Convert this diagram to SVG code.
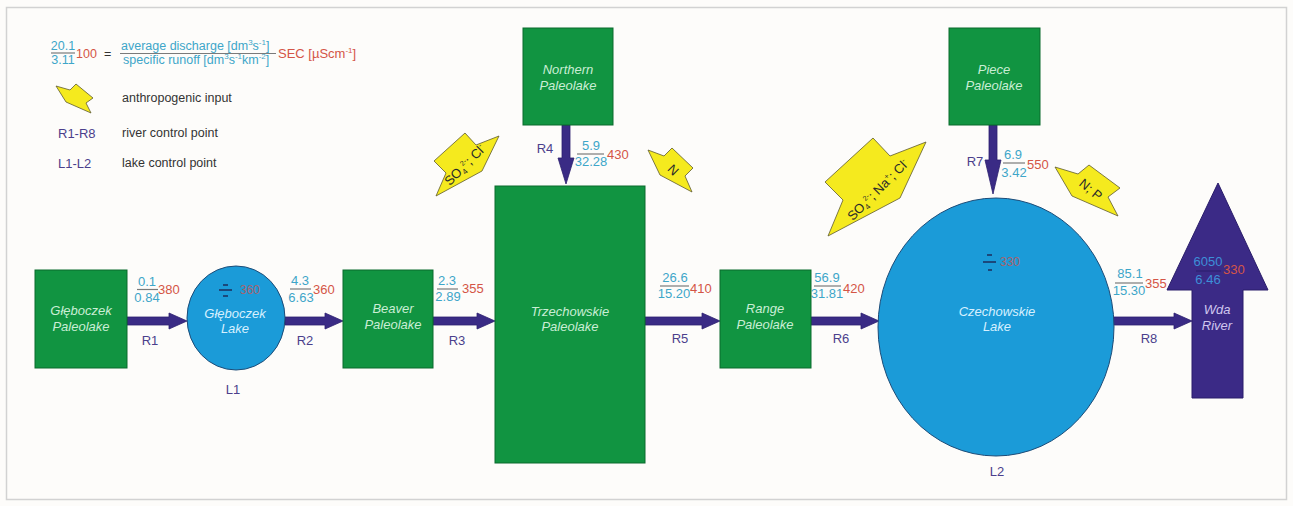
<svg xmlns="http://www.w3.org/2000/svg" width="1293" height="506" viewBox="0 0 1293 506">
<style>
text{font-family:"Liberation Sans",Arial,sans-serif}
.box{fill:#119441;stroke:#0b6a2c;stroke-width:1}
.lake{fill:#1b9bd8;stroke:#1d4c78;stroke-width:1}
.bt{fill:#c9eed5;font-size:13px;font-style:italic;text-anchor:middle}
.lt{fill:#d6f0ff;font-size:13px;font-style:italic;text-anchor:middle}
.flow{fill:#3a2b85;stroke:#2c1f6e;stroke-width:0.8}
.num{fill:#3ea6c9;font-size:13px;text-anchor:middle}
.sec{fill:#d45546;font-size:13px}
.fl{stroke:#7a7a7a;stroke-width:1.2}
.rl{fill:#4b3f8c;font-size:13px;text-anchor:middle}
.yel{fill:#f5ea1e;stroke:#5e5a30;stroke-width:0.8}
.yt{fill:#2a2a2a;font-size:13px;text-anchor:middle}
.leg{fill:#333;font-size:12.5px}
.dash{stroke:#1d2c5c;stroke-width:1.5}
.mute{fill:#a8626c;font-size:12px}
</style>
<rect x="0" y="0" width="1293" height="506" fill="#fdfcfa"/>
<rect x="6.5" y="7.5" width="1280" height="492" fill="none" stroke="#d2d2d2" stroke-width="1.5"/>

<g id="legend">
<text class="num" style="font-size:12.5px" x="63" y="50">20.1</text>
<line class="fl" x1="51" y1="53" x2="75" y2="53"/>
<text class="num" style="font-size:12.5px" x="63" y="64">3.11</text>
<text class="sec" style="font-size:12.5px" x="76" y="58">100</text>
<text class="leg" x="104" y="58">=</text>
<text fill="#3ea6c9" font-size="12.5" x="121" y="50">average discharge [dm<tspan font-size="8" dy="-5">3</tspan><tspan dy="5">s</tspan><tspan font-size="8" dy="-5">-1</tspan><tspan dy="5">]</tspan></text>
<line class="fl" x1="120" y1="53.5" x2="276" y2="53.5"/>
<text fill="#3ea6c9" font-size="12.5" x="123" y="64">specific runoff [dm<tspan font-size="8" dy="-5">3</tspan><tspan dy="5">s</tspan><tspan font-size="8" dy="-5">-1</tspan><tspan dy="5">km</tspan><tspan font-size="8" dy="-5">-2</tspan><tspan dy="5">]</tspan></text>
<text class="sec" font-size="12.5" x="278" y="58">SEC [µScm<tspan font-size="8" dy="-5">-1</tspan><tspan dy="5">]</tspan></text>
<polygon class="yel" points="93,98 76,84 70,90 56,86 66,102 91,113 86,103"/>
<text class="leg" x="122" y="102">anthropogenic input</text>
<text class="rl" x="58" y="138" style="text-anchor:start">R1-R8</text>
<text class="leg" x="122" y="137">river control point</text>
<text class="rl" x="58" y="168" style="text-anchor:start">L1-L2</text>
<text class="leg" x="122" y="167">lake control point</text>
</g>

<g id="connectors">
<polygon class="flow" points="127,317 169,317 169,313 187,321 169,329 169,325 127,325"/>
<polygon class="flow" points="285,317 325,317 325,313 343,321 325,329 325,325 285,325"/>
<polygon class="flow" points="433,317 477,317 477,313 495,321 477,329 477,325 433,325"/>
<polygon class="flow" points="645,317 702,317 702,313 720,321 702,329 702,325 645,325"/>
<polygon class="flow" points="811,317 861,317 861,313 879,321 861,329 861,325 811,325"/>
<polygon class="flow" points="1112,317 1174,317 1174,313 1192,321 1174,329 1174,325 1112,325"/>
<polygon class="flow" points="562,125 570,125 570,158 574,158 566,184 558,158 562,158"/>
<polygon class="flow" points="989,125 997,125 997,160 1001,160 993,194 985,160 989,160"/>

<text class="num" x="147" y="286">0.1</text><line class="fl" x1="137" y1="289.5" x2="158" y2="289.5"/><text class="num" x="147" y="302">0.84</text><text class="sec" x="158" y="294">380</text>
<text class="rl" x="150" y="345">R1</text>
<text class="num" x="300" y="285">4.3</text><line class="fl" x1="290" y1="289" x2="311" y2="289"/><text class="num" x="301" y="302">6.63</text><text class="sec" x="313" y="294">360</text>
<text class="rl" x="305" y="345">R2</text>
<text class="num" x="447" y="285">2.3</text><line class="fl" x1="437" y1="289" x2="458" y2="289"/><text class="num" x="448" y="301">2.89</text><text class="sec" x="462" y="293">355</text>
<text class="rl" x="457" y="345">R3</text>
<text class="num" x="591" y="150">5.9</text><line class="fl" x1="577" y1="154" x2="604" y2="154"/><text class="num" x="591" y="166">32.28</text><text class="sec" x="607" y="159">430</text>
<text class="rl" x="545" y="153">R4</text>
<text class="num" x="675" y="282">26.6</text><line class="fl" x1="660" y1="286" x2="689" y2="286"/><text class="num" x="674" y="298">15.20</text><text class="sec" x="690" y="293">410</text>
<text class="rl" x="680" y="343">R5</text>
<text class="num" x="827" y="282">56.9</text><line class="fl" x1="814" y1="286" x2="841" y2="286"/><text class="num" x="827" y="298">31.81</text><text class="sec" x="843" y="293">420</text>
<text class="rl" x="841" y="343">R6</text>
<text class="num" x="1013" y="159">6.9</text><line class="fl" x1="1003" y1="163" x2="1025" y2="163"/><text class="num" x="1014" y="177">3.42</text><text class="sec" x="1027" y="169">550</text>
<text class="rl" x="975" y="166">R7</text>
<text class="num" x="1130" y="278">85.1</text><line class="fl" x1="1115" y1="283" x2="1143" y2="283"/><text class="num" x="1129" y="295">15.30</text><text class="sec" x="1145" y="288">355</text>
<text class="rl" x="1149" y="343">R8</text>
</g>

<g id="glebczek-paleolake">
<rect class="box" x="35" y="270" width="92" height="98"/>
<text class="bt" x="81" y="315">Głęboczek</text>
<text class="bt" x="81" y="331">Paleolake</text>
</g>

<g id="glebczek-lake">
<ellipse class="lake" cx="236" cy="318" rx="49" ry="52"/>
<line class="dash" x1="223" y1="285" x2="228" y2="285"/>
<line class="dash" x1="219" y1="290" x2="232" y2="290"/>
<line class="dash" x1="223" y1="296" x2="228" y2="296"/>
<text class="mute" x="240" y="294">360</text>
<text class="lt" x="235" y="318">Głęboczek</text>
<text class="lt" x="235" y="333">Lake</text>
<text class="rl" x="233" y="394">L1</text>
</g>

<g id="beaver-paleolake">
<rect class="box" x="343" y="270" width="90" height="98"/>
<text class="bt" x="393" y="313">Beaver</text>
<text class="bt" x="393" y="329">Paleolake</text>
</g>

<g id="northern-paleolake">
<rect class="box" x="523" y="28" width="90" height="97"/>
<text class="bt" x="568" y="74">Northern</text>
<text class="bt" x="568" y="90">Paleolake</text>
</g>

<g id="trzechowskie-paleolake">
<rect class="box" x="495" y="186" width="150" height="277"/>
<text class="bt" x="570" y="316">Trzechowskie</text>
<text class="bt" x="570" y="331">Paleolake</text>
</g>

<g id="range-paleolake">
<rect class="box" x="720" y="270" width="91" height="98"/>
<text class="bt" x="765" y="313">Range</text>
<text class="bt" x="765" y="329">Paleolake</text>
</g>

<g id="piece-paleolake">
<rect class="box" x="949" y="28" width="91" height="97"/>
<text class="bt" x="994" y="74">Piece</text>
<text class="bt" x="994" y="90">Paleolake</text>
</g>

<g id="czechowskie-lake">
<ellipse class="lake" cx="996" cy="327" rx="118" ry="129"/>
<line class="dash" x1="987" y1="255" x2="992" y2="255"/>
<line class="dash" x1="983" y1="262" x2="996" y2="262"/>
<line class="dash" x1="988" y1="270" x2="992" y2="270"/>
<text class="mute" x="1000" y="266">330</text>
<text class="lt" x="997" y="316">Czechowskie</text>
<text class="lt" x="997" y="331">Lake</text>
<text class="rl" x="997" y="476">L2</text>
</g>

<g id="wda-river">
<polygon fill="#3b2a86" stroke="#2a1d6a" stroke-width="1" points="1218,183 1268,290 1243,290 1243,398 1192,398 1192,290 1167,290"/>
<text fill="#3d8fd8" font-size="13" text-anchor="middle" x="1208" y="266">6050</text>
<line x1="1196" y1="271" x2="1221" y2="271" stroke="#2a1d6a" stroke-width="1"/>
<text fill="#3d8fd8" font-size="13" text-anchor="middle" x="1208" y="284">6.46</text>
<text class="sec" x="1223" y="274">330</text>
<text fill="#cfc6ee" font-size="13" font-style="italic" text-anchor="middle" x="1217" y="314">Wda</text>
<text fill="#cfc6ee" font-size="13" font-style="italic" text-anchor="middle" x="1217" y="330">River</text>
</g>

<g id="input-so4-cl">
<polygon class="yel" points="434,161 465,133 476,145 499,136 482,171 436,196 446,173"/>
<text class="yt" font-size="12" transform="translate(468,168) rotate(-45)">SO<tspan font-size="8" dy="3">4</tspan><tspan font-size="7" dy="-8">2-</tspan><tspan dy="5">; Cl</tspan><tspan font-size="8" dy="-5">-</tspan></text>
</g>

<g id="input-n">
<polygon class="yel" points="693,168 672,148 664,156 648,150 660,175 692,192 685,176"/>
<text class="yt" font-size="12" transform="translate(670,173) rotate(45)">N</text>
</g>

<g id="input-so4-na-cl">
<polygon class="yel" points="825,182 873,138 890,156 926,142 900,198 828,236 843,200"/>
<text class="yt" transform="translate(881,193) rotate(-45)">SO<tspan font-size="8" dy="3">4</tspan><tspan font-size="7" dy="-8">2-</tspan><tspan dy="5">; Na</tspan><tspan font-size="8" dy="-5">+</tspan><tspan dy="5">; Cl</tspan><tspan font-size="8" dy="-5">-</tspan></text>
</g>

<g id="input-n-p">
<polygon class="yel" points="1120,188 1089,165 1078,174 1055,167 1072,196 1118,216 1108,197"/>
<text class="yt" font-size="12" transform="translate(1088,193) rotate(40)">N; P</text>
</g>
</svg>
